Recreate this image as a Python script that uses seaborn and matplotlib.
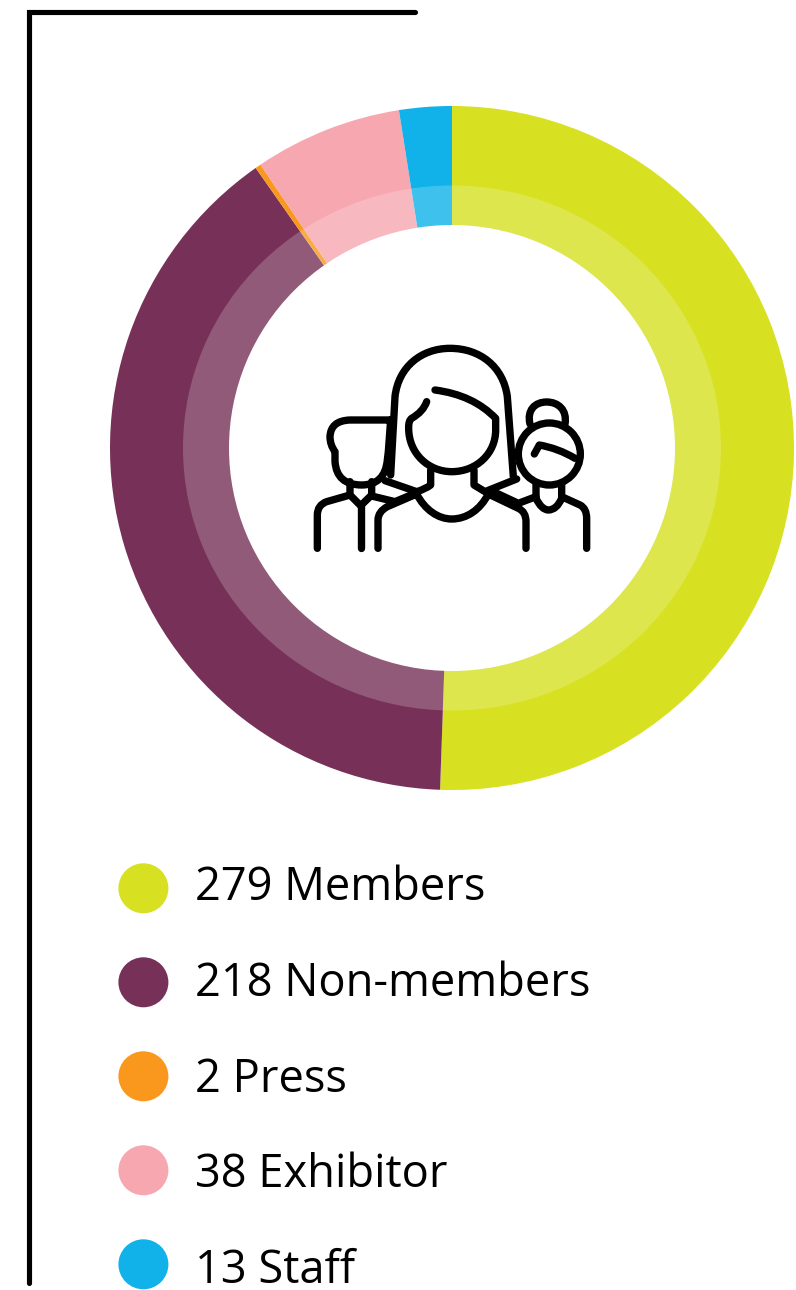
import matplotlib
matplotlib.use("Agg")
import matplotlib.pyplot as plt
import pandas as pd
import seaborn as sns
from matplotlib.patches import Circle, Ellipse, PathPatch
from matplotlib.path import Path

# Values
names = ["Members", "Non-members", "Press", "Exhibitor", "Staff"]
counts = [279, 218, 2, 38, 13]
# Arc sizes as drawn in the picture, in degrees
arc_degrees = [182.0, 142.97, 0.97, 25.13, 8.93]
colors = ["#D7E021", "#773158", "#F9981D", "#F7A7B0", "#10B2E9"]

W, H = 796, 1290

sns.set_theme(style="white")
plt.rcParams["font.family"] = ["Open Sans", "DejaVu Sans"]

fig = plt.figure(figsize=(W / 100, H / 100), dpi=100)
ax = fig.add_axes([0, 0, 1, 1])


def flip(y):
    return H - y


# Donut, clockwise from the top
cx, cy = 452, flip(448)
ax.pie(arc_degrees, colors=colors, startangle=90, counterclock=False,
       center=(cx, cy), radius=342, frame=True, wedgeprops={"linewidth": 0})
# Lighter inner band is slightly wider than tall, then the hole on top
ax.add_patch(Ellipse((cx, cy), 538, 525, facecolor=(1, 1, 1, 0.2), linewidth=0))
ax.add_patch(Circle((cx, cy), 223, facecolor="white", linewidth=0))

# Legend
legend = pd.DataFrame({"name": names, "row": range(len(names))})
legend["x"] = 143.4
legend["y"] = flip(888.3 + 94 * legend["row"])
sns.scatterplot(data=legend, x="x", y="y", hue="name", hue_order=names,
                palette=colors, s=1296, linewidth=0, legend=False, ax=ax)
for row in legend.itertuples():
    ax.text(195, flip(900 + 95.75 * row.row), f"{counts[row.row]} {row.name}",
            fontsize=32.6, color="black", va="baseline", ha="left")

# Corner rule
ax.plot([415, 29, 29], [flip(12), flip(12), flip(1283)], color="black", lw=3.7,
        solid_capstyle="round", solid_joinstyle="miter")


# Icon strokes, written in crop coordinates (3x, offset 300,330)
def pt(x, y):
    return (300 + x / 3, flip(330 + y / 3))


def stroke(*segs):
    verts, codes = [], []
    for seg in segs:
        if len(seg) == 1:
            code = Path.LINETO if verts else Path.MOVETO
            verts.append(seg[0])
            codes.append(code)
        elif len(seg) == 2:
            verts.extend(seg)
            codes.extend([Path.CURVE3] * 2)
        else:
            verts.extend(seg)
            codes.extend([Path.CURVE4] * 3)
    verts = [pt(x, y) for x, y in verts]
    ax.add_patch(PathPatch(Path(verts, codes), fill=False, edgecolor="black",
                           lw=5.3, capstyle="round", joinstyle="round"))


# woman
stroke([(272, 435)], [(285, 200)], [(295, 110), (365, 55), (450, 55)],
       [(540, 55), (610, 110), (622, 200)], [(640, 440)])
stroke([(255, 452)], [(350, 485)], [(375, 478), (392, 465)], [(392, 420)])
stroke([(522, 420)], [(522, 465)], [(555, 485)], [(650, 447)])
stroke([(380, 215)], [(370, 245), (335, 265)], [(325, 272), (326, 295)],
       [(326, 370), (385, 425), (455, 425)], [(530, 425), (587, 370), (587, 300)],
       [(587, 265)], [(520, 195), (405, 180)])
stroke([(234, 655)], [(234, 570)], [(234, 545), (262, 530)], [(350, 492)],
       [(375, 540), (415, 567), (455, 567)], [(500, 567), (540, 540), (565, 492)],
       [(655, 535)], [(678, 545), (678, 575)], [(678, 655)])
# man
stroke([(272, 270)], [(150, 270)], [(92, 272), (90, 320)], [(90, 345), (105, 365)],
       [(105, 395)], [(110, 465), (185, 465)], [(255, 465), (262, 390)],
       [(265, 365)], [(272, 270)])
stroke([(150, 455)], [(150, 495)], [(182, 527)], [(215, 495)], [(215, 455)])
stroke([(182, 527)], [(182, 655)])
stroke([(150, 495)], [(80, 515)], [(52, 525), (52, 555)], [(52, 655)])
stroke([(215, 498)], [(285, 515)], [(345, 490)])
# girl
stroke([(690, 282)], [(680, 240), (705, 216), (740, 216)],
       [(775, 216), (802, 240), (795, 282)])
head_x, head_y = pt(748, 372)
ax.add_patch(Circle((head_x, head_y), 31, fill=False, edgecolor="black", lw=5.3))
stroke([(703, 372)], [(718, 345)], [(775, 355), (825, 385)])
stroke([(708, 465)], [(708, 505)], [(725, 540), (745, 540)], [(770, 540), (785, 505)],
       [(785, 465)])
stroke([(785, 500)], [(840, 525)], [(860, 535), (860, 565)], [(860, 655)])
stroke([(708, 500)], [(655, 520)], [(580, 485)])

ax.set_xlim(0, W)
ax.set_ylim(0, H)
ax.set_axis_off()

fig.savefig("out.png", dpi=100, facecolor="white")
